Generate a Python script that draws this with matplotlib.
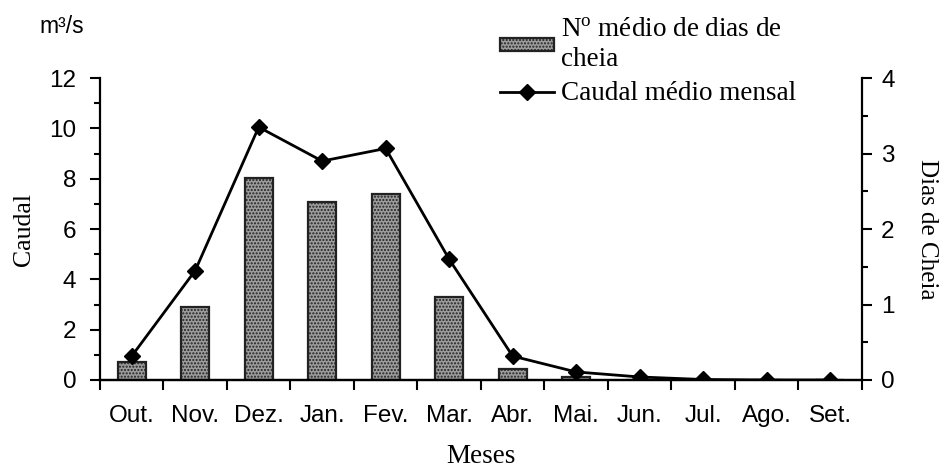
import matplotlib.pyplot as plt
import numpy as np
from matplotlib.ticker import MultipleLocator

plt.rcParams['mathtext.fontset'] = 'custom'
plt.rcParams['mathtext.rm'] = 'Liberation Serif'

meses = ["Out.", "Nov.", "Dez.", "Jan.", "Fev.", "Mar.", "Abr.", "Mai.", "Jun.", "Jul.", "Ago.", "Set."]
# mean monthly flow (m3/s), left axis
caudal = [0.95, 4.35, 10.05, 8.7, 9.2, 4.8, 0.95, 0.32, 0.12, 0.02, 0.0, 0.0]
# mean number of flood days, right axis
dias_cheia = [0.24, 0.97, 2.67, 2.36, 2.47, 1.1, 0.14, 0.04, 0.0, 0.0, 0.0, 0.0]

sans = 'Liberation Sans'
serif = 'Liberation Serif'

fig = plt.figure(figsize=(9.47, 4.70), dpi=100)
ax = fig.add_axes([0.1056, 0.1915, 0.8044, 0.6425])
ax2 = ax.twinx()

x = np.arange(len(meses))
ax2.bar(x, dias_cheia, width=0.44, color='#9c9c9c', edgecolor='#222222',
        linewidth=1.6, hatch='.....', label='N$^{\\mathrm{o}}$ médio de dias de\ncheia')
ax.plot(x, caudal, color='black', lw=2, marker='D', ms=8, label='Caudal médio mensal')

ax.set_zorder(ax2.get_zorder() + 1)
ax.patch.set_visible(False)

ax.set_xlim(-0.5, len(meses) - 0.5)
ax.set_ylim(0, 12)
ax2.set_ylim(0, 4)
ax.yaxis.set_major_locator(MultipleLocator(2))
ax.yaxis.set_minor_locator(MultipleLocator(1))
ax2.yaxis.set_major_locator(MultipleLocator(1))
ax2.yaxis.set_minor_locator(MultipleLocator(0.5))
ax.set_xticks(x)
ax.set_xticklabels(meses, fontfamily=sans, fontsize=17.5)
ax.set_xticks(np.arange(-0.5, len(meses)), minor=True)
ax.tick_params(axis='x', which='major', length=0, pad=18)
ax.tick_params(axis='x', which='minor', length=7, width=1.5, direction='out')
ax.tick_params(axis='y', which='major', length=7, width=1.5, labelsize=17.5, pad=10)
ax.tick_params(axis='y', which='minor', length=4, width=1.5)
ax2.tick_params(axis='y', which='major', length=7, width=1.5, labelsize=17.5, pad=7)
ax2.tick_params(axis='y', which='minor', length=4, width=1.5)
for lab in ax.get_yticklabels() + ax2.get_yticklabels():
    lab.set_fontfamily(sans)

for a in (ax, ax2):
    a.spines['top'].set_visible(False)
    for s in ('left', 'right', 'bottom'):
        a.spines[s].set_linewidth(1.6)
ax.spines['right'].set_visible(False)
ax2.spines['left'].set_visible(False)

ax.set_xlabel('Meses', fontfamily=serif, fontsize=19.5, labelpad=12)
ax.set_ylabel('Caudal', fontfamily=serif, fontsize=18.5, labelpad=10)
ax2.set_ylabel('Dias de Cheia', fontfamily=serif, fontsize=18, rotation=270, labelpad=31)
fig.text(0.042, 0.93, 'm³/s', fontfamily=sans, fontsize=16.5, va='baseline')

h1, l1 = ax2.get_legend_handles_labels()
h2, l2 = ax.get_legend_handles_labels()
fig.legend(h1 + h2, l1 + l2, loc='upper left', bbox_to_anchor=(0.528, 0.962),
           frameon=False, prop={'family': serif, 'size': 19.5},
           handlelength=2.0, handletextpad=0.25, labelspacing=0.35,
           handleheight=0.4, borderpad=0, borderaxespad=0)

fig.savefig('out.png', dpi=100)
